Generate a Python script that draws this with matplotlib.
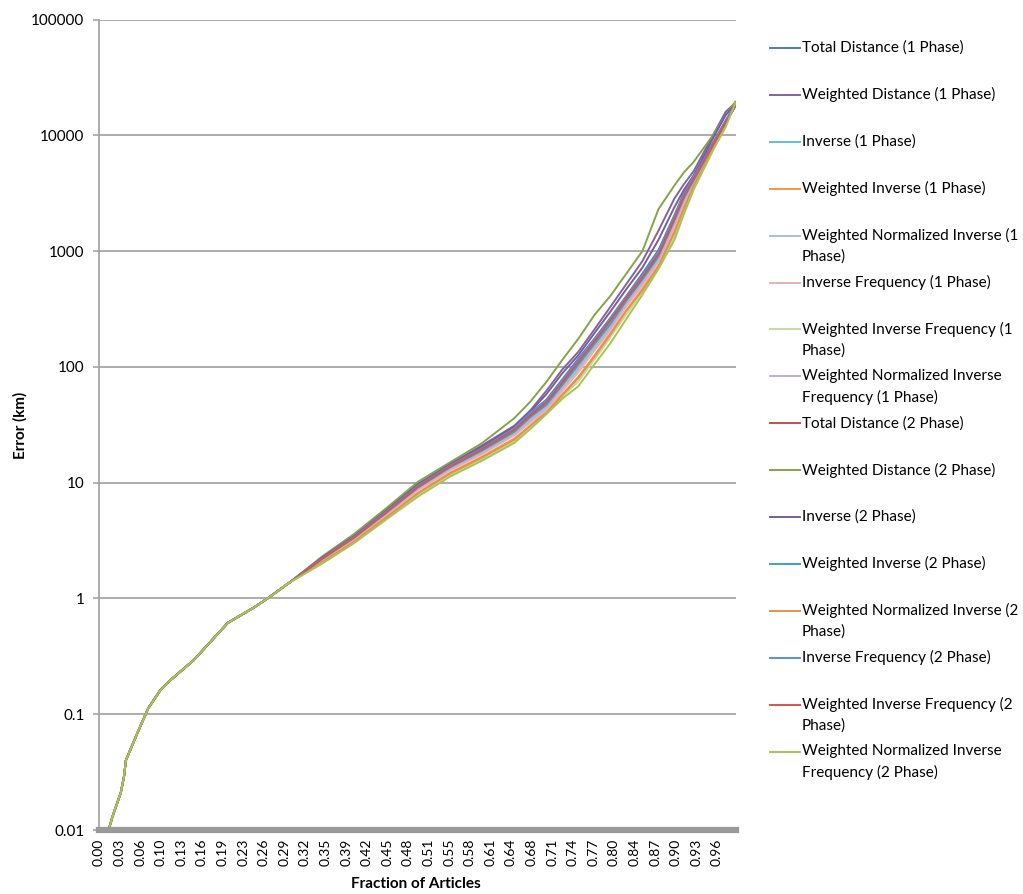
import matplotlib
matplotlib.use("Agg")
import matplotlib.pyplot as plt
from matplotlib.lines import Line2D

plt.rcParams['font.family'] = ['Lato', 'DejaVu Sans']

# shared low part: every method is practically identical here
frac_low = [0.0, 0.017, 0.023, 0.036, 0.041, 0.044, 0.062, 0.079, 0.098, 0.114,
            0.150, 0.203, 0.243, 0.265, 0.300]
err_low = [0.005, 0.010, 0.013, 0.021, 0.029, 0.040, 0.069, 0.113, 0.162, 0.198,
           0.294, 0.615, 0.83, 1.0, 1.38]

# upper part, one list per method
frac_high = [0.35, 0.40, 0.45, 0.50, 0.55, 0.60, 0.65, 0.675, 0.70, 0.725, 0.75,
             0.775, 0.80, 0.825, 0.85, 0.875, 0.90, 0.915, 0.93, 0.96, 0.98, 0.995]

total_dist_1 = [2.25, 3.45, 5.7, 9.5, 14.3, 20, 30, 40, 52, 78, 118, 175, 265, 410, 640, 1020, 2050, 3200, 4500, 8600, 13500, 18500]
w_dist_1 = [2.25, 3.5, 5.8, 9.8, 14.5, 21, 31, 42, 62, 95, 135, 210, 330, 520, 820, 1500, 2850, 3800, 4900, 10000, 16000, 19000]
inverse_1 = [2.15, 3.3, 5.4, 9.0, 13.3, 18.5, 27, 36, 46, 68, 100, 152, 225, 365, 555, 870, 1800, 2800, 4000, 8000, 12700, 18000]
w_inverse_1 = [2.05, 3.15, 5.0, 8.2, 12.2, 16.8, 24, 31, 41, 58, 82, 125, 195, 310, 470, 750, 1500, 2400, 3700, 7700, 12500, 18800]
wn_inverse_1 = [2.1, 3.25, 5.3, 8.7, 13, 18, 26, 34, 43, 64, 93, 142, 212, 345, 520, 820, 1700, 2650, 3900, 7800, 12500, 18300]
inv_freq_1 = [2.1, 3.2, 5.2, 8.6, 12.8, 17.6, 25.5, 33, 42, 62, 90, 138, 205, 335, 500, 800, 1650, 2600, 3850, 7800, 12500, 18500]
w_inv_freq_1 = [2.0, 3.05, 4.9, 7.8, 11.6, 16, 22.5, 30, 40, 55, 75, 115, 180, 285, 445, 720, 1350, 2250, 3550, 7500, 12400, 19000]
wn_inv_freq_1 = [2.15, 3.3, 5.35, 8.9, 13.2, 18.2, 26.5, 35, 45, 67, 97, 148, 220, 355, 540, 850, 1750, 2750, 3950, 7900, 12600, 18200]
total_dist_2 = [2.2, 3.4, 5.6, 9.3, 14, 19.7, 29, 39, 50, 75, 113, 170, 255, 400, 600, 970, 1950, 3100, 4300, 8300, 13000, 18000]
w_dist_2 = [2.3, 3.6, 6.0, 10.2, 15, 22, 36, 50, 74, 115, 175, 280, 410, 640, 1000, 2300, 3700, 4800, 5900, 10000, 15000, 19500]
inverse_2 = [2.25, 3.45, 5.7, 9.6, 14.4, 20.5, 30.5, 41, 58, 88, 126, 195, 300, 470, 720, 1250, 2400, 3400, 4500, 9400, 15000, 18500]
w_inverse_2 = [2.2, 3.35, 5.5, 9.1, 13.6, 19, 27.5, 37, 47, 70, 105, 158, 235, 375, 570, 900, 1850, 2900, 4100, 8100, 12800, 18000]
wn_inverse_2 = [2.05, 3.1, 5.0, 8.1, 12, 16.5, 23.5, 31, 40, 57, 80, 122, 190, 305, 460, 735, 1450, 2350, 3650, 7600, 12400, 18800]
inv_freq_2 = [2.2, 3.4, 5.6, 9.4, 14.1, 19.8, 29.5, 40, 51, 76, 115, 172, 260, 405, 620, 990, 2000, 3150, 4400, 8400, 13200, 18200]
w_inv_freq_2 = [2.2, 3.35, 5.5, 9.2, 13.8, 19.4, 28.5, 38, 49, 73, 110, 165, 250, 390, 590, 940, 1900, 3000, 4200, 8200, 12900, 17800]
wn_inv_freq_2 = [2.0, 3.0, 4.8, 7.6, 11.3, 15.5, 22, 29, 39, 53, 68, 105, 160, 260, 420, 700, 1250, 2100, 3400, 7400, 11800, 19000]

labels = ["Total Distance (1 Phase)", "Weighted Distance (1 Phase)", "Inverse (1 Phase)",
          "Weighted Inverse (1 Phase)", "Weighted Normalized Inverse (1\nPhase)",
          "Inverse Frequency (1 Phase)", "Weighted Inverse Frequency (1\nPhase)",
          "Weighted Normalized Inverse\nFrequency (1 Phase)", "Total Distance (2 Phase)",
          "Weighted Distance (2 Phase)", "Inverse (2 Phase)", "Weighted Inverse (2 Phase)",
          "Weighted Normalized Inverse (2\nPhase)", "Inverse Frequency (2 Phase)",
          "Weighted Inverse Frequency (2\nPhase)", "Weighted Normalized Inverse\nFrequency (2 Phase)"]
colors = ['#4A7EBB', '#8064A2', '#63BFD8', '#F79646', '#A9BEDD', '#E8B3B1', '#C6D9A0', '#BCB0D3',
          '#C0504D', '#86A34A', '#7A5C9C', '#3EA3BC', '#E8904A', '#5A90D8', '#D9534F', '#A3C656']
series = [total_dist_1, w_dist_1, inverse_1, w_inverse_1, wn_inverse_1, inv_freq_1,
          w_inv_freq_1, wn_inv_freq_1, total_dist_2, w_dist_2, inverse_2, w_inverse_2,
          wn_inverse_2, inv_freq_2, w_inv_freq_2, wn_inv_freq_2]

tick_labels = ['0.00', '0.03', '0.06', '0.10', '0.13', '0.16', '0.19', '0.23', '0.26', '0.29',
               '0.32', '0.35', '0.39', '0.42', '0.45', '0.48', '0.51', '0.55', '0.58', '0.61',
               '0.64', '0.68', '0.71', '0.74', '0.77', '0.80', '0.84', '0.87', '0.90', '0.93', '0.96']

fig = plt.figure(figsize=(10.23, 8.94), dpi=100)
ax = fig.add_axes([99/1023, 1-830/894, (736-99)/1023, (830-19.5)/894])

for ys, c in zip(series, colors):
    ax.plot(frac_low + frac_high, err_low + ys, color=c, lw=1.4)

ax.set_yscale('log')
ax.set_ylim(0.01, 100000)
ax.set_xlim(0.003, 0.996)
ax.set_yticks([0.01, 0.1, 1, 10, 100, 1000, 10000, 100000])
ax.set_yticklabels(['0.01', '0.1', '1', '10', '100', '1000', '10000', '100000'])
ax.minorticks_off()
ax.yaxis.grid(True, color='#A6A6A6', lw=1.3)
ax.set_axisbelow(True)

ax.set_xticks([0.002 + k*0.03215 for k in range(len(tick_labels))])
ax.set_xticklabels(tick_labels, rotation=90)

for s in ['top', 'right']:
    ax.spines[s].set_visible(False)
ax.spines['left'].set_color('#A6A6A6')
ax.spines['left'].set_linewidth(1.3)
ax.spines['bottom'].set_color('#999999')
ax.spines['bottom'].set_linewidth(4.5)
ax.spines['bottom'].set_zorder(5)
ax.tick_params(axis='y', length=4.5, width=1.2, color='#A6A6A6', labelsize=11, pad=6)
ax.tick_params(axis='x', length=0, labelsize=10, pad=6)

fig.text(20/1023, 1-425/894, 'Error (km)', rotation=90, ha='center', va='center',
         fontsize=11, fontweight='bold')
fig.text(416/1023, 1-884/894, 'Fraction of Articles', ha='center', va='center',
         fontsize=11, fontweight='bold')

# legend drawn by hand so the wrapped entries sit like the original
for i, (lab, c) in enumerate(zip(labels, colors)):
    ypx = 48 + i*46.9
    y = 1 - ypx/894
    fig.add_artist(Line2D([770/1023, 800/1023], [y, y], color=c, lw=1.4))
    for j, part in enumerate(lab.split('\n')):
        fig.text(802/1023, 1-(ypx + j*21)/894, part, ha='left', va='center', fontsize=11)

fig.savefig('out.png', dpi=100)
